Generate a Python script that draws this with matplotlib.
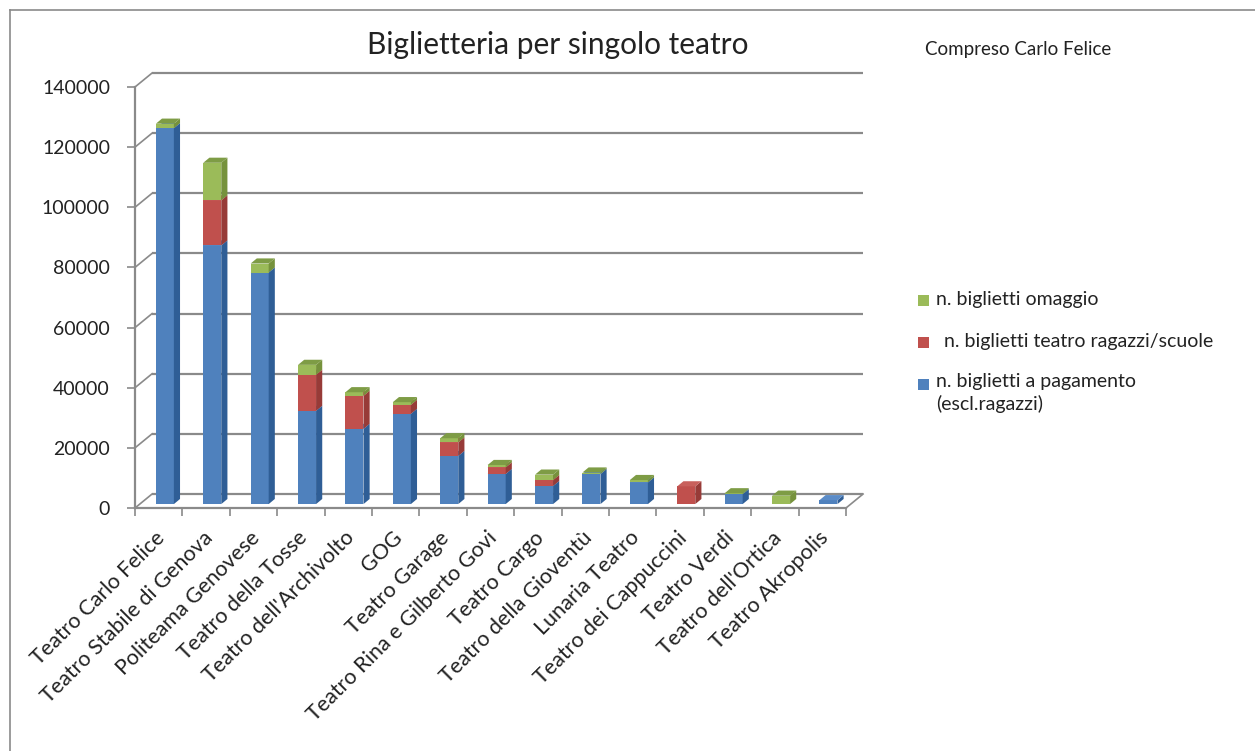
import matplotlib
matplotlib.use("Agg")
import matplotlib.pyplot as plt
from matplotlib.patches import Polygon, Rectangle
import numpy as np

plt.rcParams['font.family'] = ['Lato', 'DejaVu Sans']

categories = ["Teatro Carlo Felice", "Teatro Stabile di Genova", "Politeama Genovese",
              "Teatro della Tosse", "Teatro dell'Archivolto", "GOG", "Teatro Garage",
              "Teatro Rina e Gilberto Govi", "Teatro Cargo", "Teatro della Gioventù",
              "Lunaria Teatro", "Teatro dei Cappuccini", "Teatro Verdi",
              "Teatro dell'Ortica", "Teatro Akropolis"]
pagamento = [125000, 86000, 77000, 31000, 25000, 30000, 16000, 10000, 6000, 10000, 7200, 0, 3300, 0, 1300]
ragazzi = [0, 15000, 0, 12000, 11000, 3000, 4500, 2200, 2000, 0, 0, 5900, 0, 0, 0]
omaggio = [1500, 12500, 3000, 3300, 1200, 900, 1400, 800, 1800, 500, 800, 0, 300, 2800, 0]
series_labels = ["n. biglietti a pagamento\n(escl.ragazzi)",
                 "n. biglietti teatro ragazzi/scuole",
                 "n. biglietti omaggio"]
yticks = [0, 20000, 40000, 60000, 80000, 100000, 120000, 140000]

front = ["#4F81BD", "#C0504D", "#9BBB59"]
side = ["#2F5E96", "#973B38", "#76923C"]
top = ["#5B8CC8", "#C8605C", "#7E9C45"]

W, H = 1255, 751
fig = plt.figure(figsize=(W / 100, H / 100), dpi=100)
ax = fig.add_axes([135 / W, 1 - 508 / H, 711 / W, (508 - 87) / H])
n = len(categories)
ax.set_xlim(-0.5, n - 0.5)
ax.set_ylim(0, 140000)

grid_c = "#8A8A8A"
dxw, dyw = 0.36, 4650      # back wall offset
dxb, dyb = 0.13, 1700      # bar depth
bw, boff = 0.38, -0.06     # bar front width and left offset
base = 1300                # bars sit slightly behind the front floor edge

# back wall gridlines and diagonal connectors
for v in yticks:
    ax.plot([-0.5 + dxw, n - 0.5 + dxw], [v + dyw, v + dyw], color=grid_c, lw=1.6,
            clip_on=False, zorder=1, solid_capstyle='butt')
    ax.plot([-0.5, -0.5 + dxw], [v, v + dyw], color=grid_c, lw=1.2, clip_on=False, zorder=1)
# floor right edge
ax.plot([n - 0.5, n - 0.5 + dxw], [0, dyw], color=grid_c, lw=1.2, clip_on=False, zorder=1)

x = np.arange(n)
data = [pagamento, ragazzi, omaggio]
bottom = np.zeros(n) + base
z = 3
for s, vals in enumerate(data):
    vals = np.array(vals, dtype=float)
    for i in range(n):
        if vals[i] <= 0:
            continue
        b = bottom[i]
        t = b + vals[i]
        x0 = x[i] + boff
        x1 = x0 + bw
        ax.bar(x0, vals[i], width=bw, bottom=b, align='edge', color=front[s],
               edgecolor='none', zorder=z, clip_on=False)
        ax.add_patch(Polygon([(x1, b), (x1 + dxb, b + dyb), (x1 + dxb, t + dyb), (x1, t)],
                             closed=True, facecolor=side[s], edgecolor='none', zorder=z, clip_on=False))
        ax.add_patch(Polygon([(x0, t), (x1, t), (x1 + dxb, t + dyb), (x0 + dxb, t + dyb)],
                             closed=True, facecolor=top[s], edgecolor='none', zorder=z, clip_on=False))
    bottom = bottom + vals

for sp in ['top', 'right']:
    ax.spines[sp].set_visible(False)
for sp in ['left', 'bottom']:
    ax.spines[sp].set_color(grid_c)
    ax.spines[sp].set_linewidth(1.6)
    ax.spines[sp].set_zorder(2)

ax.set_yticks(yticks)
ax.set_yticklabels([str(v) for v in yticks], fontsize=14, color="#222222")
ax.tick_params(axis='y', length=6, color=grid_c, width=1.2, pad=12)

ax.set_xticks(np.arange(n + 1) - 0.5)
ax.set_xticklabels([])
ax.tick_params(axis='x', length=6, color=grid_c, width=1.2)
for i, c in enumerate(categories):
    ax.text(i - 0.08, -6500, c, rotation=45, rotation_mode='anchor', ha='right', va='top',
            fontsize=15.5, color="#222222", transform=ax.transData)

fig.text(558 / W, 1 - 45 / H, "Biglietteria per singolo teatro", ha='center', va='center',
         fontsize=21.5, color="#222222")
fig.text(925 / W, 1 - 50 / H, "Compreso Carlo Felice", ha='left', va='center',
         fontsize=13.5, color="#222222")

# legend
leg_items = [(2, 300, "n. biglietti omaggio", 936),
             (1, 342, "n. biglietti teatro ragazzi/scuole", 944),
             (0, 384, "n. biglietti a pagamento\n(escl.ragazzi)", 936)]
for s, yy, lab, tx in leg_items:
    fig.patches.append(Rectangle((918 / W, 1 - (yy + 6) / H), 11 / W, 11 / H,
                                 transform=fig.transFigure, facecolor=front[s], edgecolor='none'))
    if '\n' in lab:
        fig.text(tx / W, 1 - (yy - 11) / H, lab, ha='left', va='top',
                 fontsize=14, color="#222222", linespacing=1.35)
    else:
        fig.text(tx / W, 1 - yy / H, lab, ha='left', va='center',
                 fontsize=14, color="#222222")

# outer frame (top and left only)
fig.add_artist(plt.Line2D([10 / W, 1], [1 - 10 / H, 1 - 10 / H], transform=fig.transFigure,
                          color="#8A8A8A", lw=1.2))
fig.add_artist(plt.Line2D([10 / W, 10 / W], [0, 1 - 10 / H], transform=fig.transFigure,
                          color="#8A8A8A", lw=1.2))

fig.savefig("out.png", dpi=100)
